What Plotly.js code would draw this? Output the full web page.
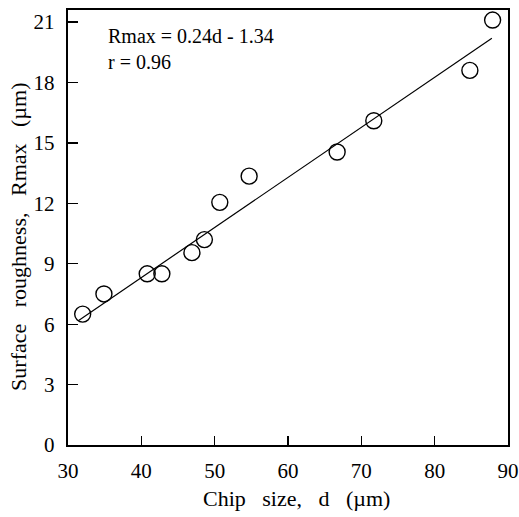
<!DOCTYPE html>
<html>
<head>
<meta charset="utf-8">
<script src="https://cdn.plot.ly/plotly-3.0.1.min.js"></script>
<style>html,body{margin:0;padding:0;background:#fff;}#chart{width:519px;height:517px;}</style>
</head>
<body>
<div id="chart"></div>
<script>
// Measured data points
const chipSize = [32.0, 34.9, 40.8, 42.8, 46.9, 48.6, 50.7, 54.7, 66.7, 71.7, 84.8, 87.9];
const roughness = [6.5, 7.5, 8.5, 8.5, 9.55, 10.2, 12.05, 13.35, 14.55, 16.1, 18.6, 21.1];
// Regression line endpoints as drawn
const fitX = [31.5, 87.8];
const fitY = [6.2, 20.2];
const xTicks = [30, 40, 50, 60, 70, 80, 90];
const yTicks = [0, 3, 6, 9, 12, 15, 18, 21];
const eqText = "Rmax = 0.24d - 1.34";
const rText = "r = 0.96";
const sp = "\u00a0\u00a0\u00a0";
const xTitle = "Chip" + sp + "size," + sp + "d" + sp + "(\u00b5m)";
const yTitle = "Surface" + sp + "roughness," + sp + "Rmax" + sp + "(\u00b5m)";

const font = "Liberation Serif, Times New Roman, serif";

const traces = [
  {x: fitX, y: fitY, mode: "lines", line: {color: "#000", width: 1.2}, showlegend: false, hoverinfo: "skip"},
  {x: chipSize, y: roughness, mode: "markers",
   marker: {symbol: "circle-open", size: 16, color: "#000", line: {width: 1.4, color: "#000"}},
   showlegend: false}
];

const layout = {
  width: 519, height: 517,
  margin: {l: 68, r: 11, t: 10, b: 72},
  paper_bgcolor: "#fff", plot_bgcolor: "#fff",
  font: {family: font, color: "#000", size: 20},
  xaxis: {
    range: [30, 90], tickvals: xTicks, ticktext: xTicks.map(String),
    ticks: "inside", ticklen: 9, tickwidth: 1.2, tickcolor: "#000",
    showline: true, linewidth: 2.2, linecolor: "#000", mirror: true,
    showgrid: false, zeroline: false,
    tickfont: {family: font, size: 21}, ticklabelstandoff: 6
  },
  yaxis: {
    range: [0, 21.6], tickvals: yTicks, ticktext: yTicks.map(String),
    ticks: "inside", ticklen: 10, tickwidth: 1.2, tickcolor: "#000",
    showline: true, linewidth: 2.2, linecolor: "#000", mirror: true,
    showgrid: false, zeroline: false,
    tickfont: {family: font, size: 21}, ticklabelstandoff: 7
  },
  annotations: [
    {xref: "paper", yref: "paper", x: 0.087, y: 0.94, xanchor: "left", yanchor: "middle", text: eqText, showarrow: false, font: {family: font, size: 20}},
    {xref: "paper", yref: "paper", x: 0.087, y: 0.88, xanchor: "left", yanchor: "middle", text: rText, showarrow: false, font: {family: font, size: 20}},
    {xref: "paper", yref: "paper", x: 0.52, y: -0.122, xanchor: "center", yanchor: "middle", text: xTitle, showarrow: false, font: {family: font, size: 22}},
    {xref: "paper", yref: "paper", x: -0.114, y: 0.478, xanchor: "center", yanchor: "middle", textangle: -90, text: yTitle, showarrow: false, font: {family: font, size: 22}}
  ]
};

Plotly.newPlot("chart", traces, layout, {displayModeBar: false, staticPlot: true});
</script>
</body>
</html>
